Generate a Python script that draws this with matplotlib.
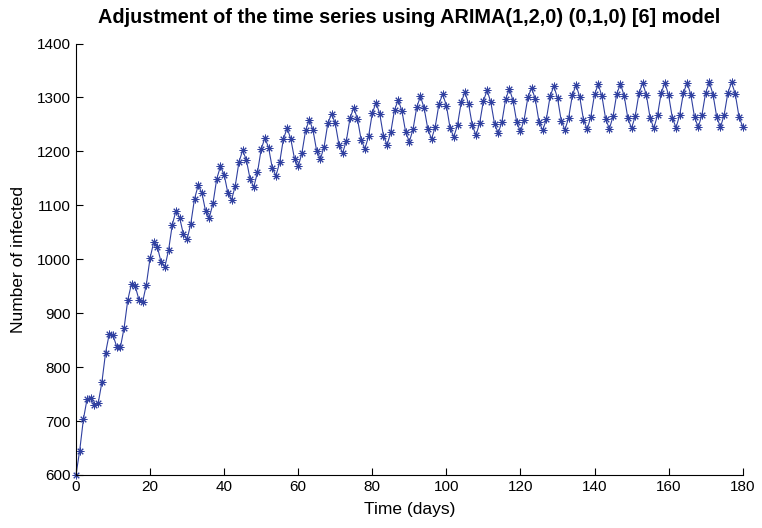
import matplotlib
matplotlib.use('Agg')
import matplotlib.pyplot as plt
import numpy as np

# fitted values of the ARIMA model, one per day
infected = [
    600, 645, 703, 741, 743, 730, 733, 772, 827, 862,
    859, 838, 837, 873, 925, 955, 950, 925, 921, 953,
    1002, 1032, 1022, 994, 986, 1017, 1064, 1090, 1077, 1046,
    1037, 1066, 1112, 1137, 1123, 1089, 1077, 1104, 1149, 1172,
    1157, 1123, 1110, 1136, 1180, 1202, 1184, 1149, 1134, 1161,
    1204, 1225, 1207, 1169, 1155, 1180, 1223, 1243, 1223, 1186,
    1172, 1197, 1239, 1259, 1239, 1200, 1186, 1209, 1252, 1270,
    1252, 1212, 1197, 1220, 1262, 1281, 1260, 1221, 1205, 1228,
    1271, 1290, 1270, 1229, 1212, 1236, 1277, 1295, 1275, 1236,
    1218, 1241, 1282, 1302, 1280, 1241, 1223, 1246, 1288, 1306,
    1285, 1243, 1227, 1249, 1291, 1310, 1288, 1248, 1230, 1253,
    1294, 1313, 1291, 1251, 1234, 1255, 1297, 1316, 1294, 1254,
    1237, 1259, 1300, 1318, 1297, 1255, 1239, 1260, 1302, 1321,
    1299, 1257, 1240, 1262, 1304, 1323, 1301, 1259, 1241, 1264,
    1306, 1324, 1302, 1260, 1242, 1265, 1307, 1325, 1303, 1261,
    1243, 1266, 1308, 1327, 1304, 1262, 1243, 1267, 1309, 1327,
    1304, 1262, 1244, 1268, 1309, 1327, 1305, 1263, 1245, 1268,
    1309, 1328, 1305, 1263, 1245, 1268, 1309, 1328, 1306, 1264,
    1246,
]
days = np.arange(len(infected))

xticks = [0, 20, 40, 60, 80, 100, 120, 140, 160, 180]
yticks = [600, 700, 800, 900, 1000, 1100, 1200, 1300, 1400]

plt.rcParams['font.family'] = ['Liberation Sans', 'DejaVu Sans']

fig = plt.figure(figsize=(7.62, 5.28), dpi=100)
ax = fig.add_axes([0.0997, 0.1004, 0.875, 0.8172])

ax.plot(days, infected, color='#3040a0', lw=0.8,
        marker=(8, 2, 0), markersize=5.5, mew=0.7, clip_on=False)

ax.set_xlim(0, 180)
ax.set_ylim(600, 1400)
ax.set_xticks(xticks)
ax.set_yticks(yticks)
ax.tick_params(direction='in', length=5, width=0.8, labelsize=11)
for s in ['top', 'right']:
    ax.spines[s].set_visible(False)
for s in ['left', 'bottom']:
    ax.spines[s].set_linewidth(0.8)

ax.set_xlabel('Time (days)', fontsize=12.5, labelpad=6)
ax.set_ylabel('Number of infected', fontsize=12.5, labelpad=8)
ax.set_title('Adjustment of the time series using ARIMA(1,2,0) (0,1,0) [6] model',
             fontsize=14.3, fontweight='bold', pad=15)

fig.savefig('out.png', dpi=100)
